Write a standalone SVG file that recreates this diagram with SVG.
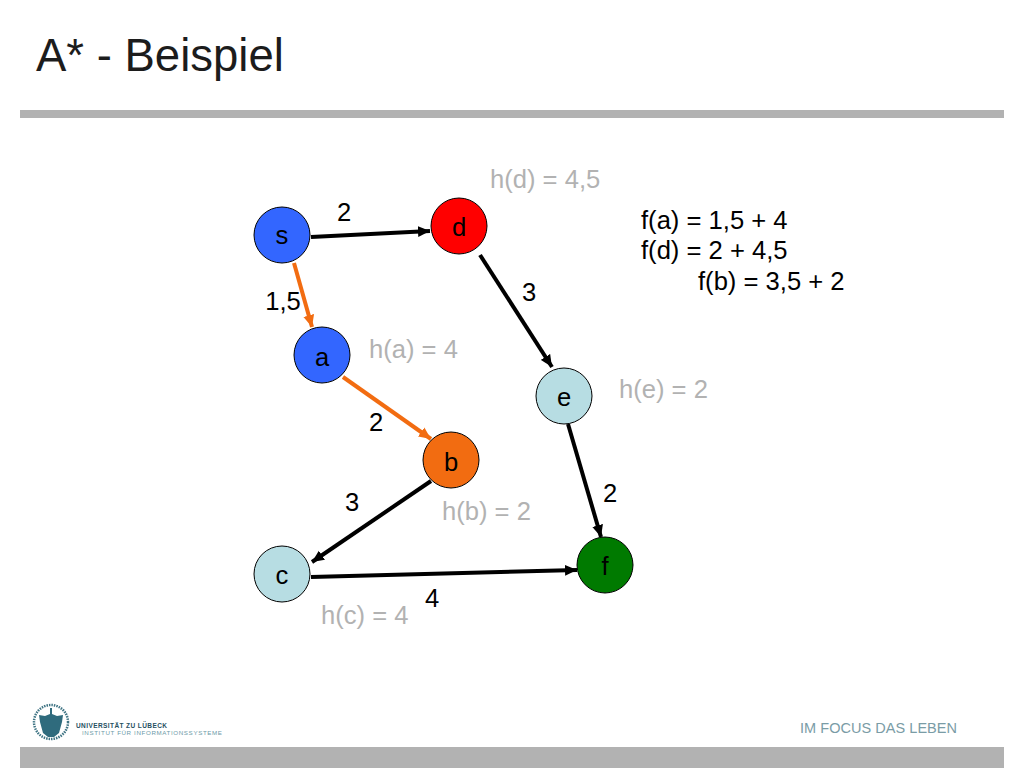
<svg xmlns="http://www.w3.org/2000/svg" width="1024" height="768" viewBox="0 0 1024 768">
<style>
text{font-family:"Liberation Sans",Arial,sans-serif;fill:#000}
.n{stroke:#000;stroke-width:1}
.l{font-size:25.600px;text-anchor:middle}
.w{font-size:25.600px;text-anchor:middle}
.h{font-size:25.600px;fill:#b2b2b2}
.f{font-size:25.600px}
.e{fill:none;stroke-width:4}
.k{stroke:#000;marker-end:url(#ak)}
.o{stroke:#f26c11;marker-end:url(#ao)}
</style>
<defs>
<marker id="ak" markerUnits="userSpaceOnUse" markerWidth="13" markerHeight="12" refX="12" refY="6" orient="auto"><path d="M0 0.500L12 6L0 11.500Z" fill="#000"/></marker>
<marker id="ao" markerUnits="userSpaceOnUse" markerWidth="13" markerHeight="12" refX="12" refY="6" orient="auto"><path d="M0 0.500L12 6L0 11.500Z" fill="#f26c11"/></marker>
</defs>
<rect width="1024" height="768" fill="#fff"/>
<text x="36" y="71" font-size="45.500" style="fill:#1c1c1c">A* - Beispiel</text>
<rect x="20" y="110" width="984" height="8" fill="#b2b2b2"/>
<rect x="20" y="747" width="984" height="21" fill="#b2b2b2"/>
<g id="logo">
<circle cx="51" cy="722" r="17" fill="none" stroke="#3f7484" stroke-width="2.500" stroke-dasharray="1.500 1"/>
<path d="M50 708H52V714L57 716L63 715L62 722L59 733L54 737H48L43 733L40 722L39 715L45 716L50 714Z" fill="#2f6b7d"/>
<text x="76" y="728" font-size="6.500" font-weight="bold" style="fill:#26505f" textLength="91">UNIVERSITÄT ZU LÜBECK</text>
<text x="82" y="735" font-size="6.200" style="fill:#6d9aa8" textLength="140">INSTITUT FÜR INFORMATIONSSYSTEME</text>
</g>
<text x="800" y="733" font-size="14.500" style="fill:#7a9ca6" textLength="157">IM FOCUS DAS LEBEN</text>
<g id="connectors">
<path class="e k" d="M311 237L430 231"/>
<path class="e o" d="M294 263L312 327"/>
<path class="e o" d="M343 377L431 439"/>
<path class="e k" d="M480 255L552 367"/>
<path class="e k" d="M568 424L601 537"/>
<path class="e k" d="M431 481L312 562"/>
<path class="e k" d="M311 577L577 570"/>
</g>
<g id="node-s"><circle class="n" cx="282" cy="235" r="28" fill="#3366ff"/><text class="l" x="282" y="244">s</text></g>
<g id="node-d"><circle class="n" cx="459" cy="226" r="28" fill="#ff0000"/><text class="l" x="459" y="236">d</text></g>
<g id="node-a"><circle class="n" cx="322" cy="355" r="28" fill="#3366ff"/><text class="l" x="322" y="366">a</text></g>
<g id="node-e"><circle class="n" cx="564" cy="396" r="28" fill="#b7dde3"/><text class="l" x="564" y="406">e</text></g>
<g id="node-b"><circle class="n" cx="451" cy="460" r="28" fill="#f26c11"/><text class="l" x="451" y="471">b</text></g>
<g id="node-c"><circle class="n" cx="282" cy="574" r="28" fill="#b7dde3"/><text class="l" x="282" y="584">c</text></g>
<g id="node-f"><circle class="n" cx="605" cy="565" r="28" fill="#007a00"/><text class="l" x="605" y="575">f</text></g>
<g id="weights">
<text class="w" x="344" y="221">2</text>
<text class="w" x="283" y="310">1,5</text>
<text class="w" x="529" y="301">3</text>
<text class="w" x="376" y="431">2</text>
<text class="w" x="352" y="511">3</text>
<text class="w" x="610" y="502">2</text>
<text class="w" x="432" y="607">4</text>
</g>
<g id="heuristics">
<text class="h" x="490" y="188">h(d) = 4,5</text>
<text class="h" x="369" y="358">h(a) = 4</text>
<text class="h" x="619" y="398">h(e) = 2</text>
<text class="h" x="442" y="520">h(b) = 2</text>
<text class="h" x="321" y="624">h(c) = 4</text>
</g>
<g id="sums">
<text class="f" x="641" y="229">f(a) = 1,5 + 4</text>
<text class="f" x="641" y="259">f(d) = 2 + 4,5</text>
<text class="f" x="698" y="290">f(b) = 3,5 + 2</text>
</g>
</svg>
